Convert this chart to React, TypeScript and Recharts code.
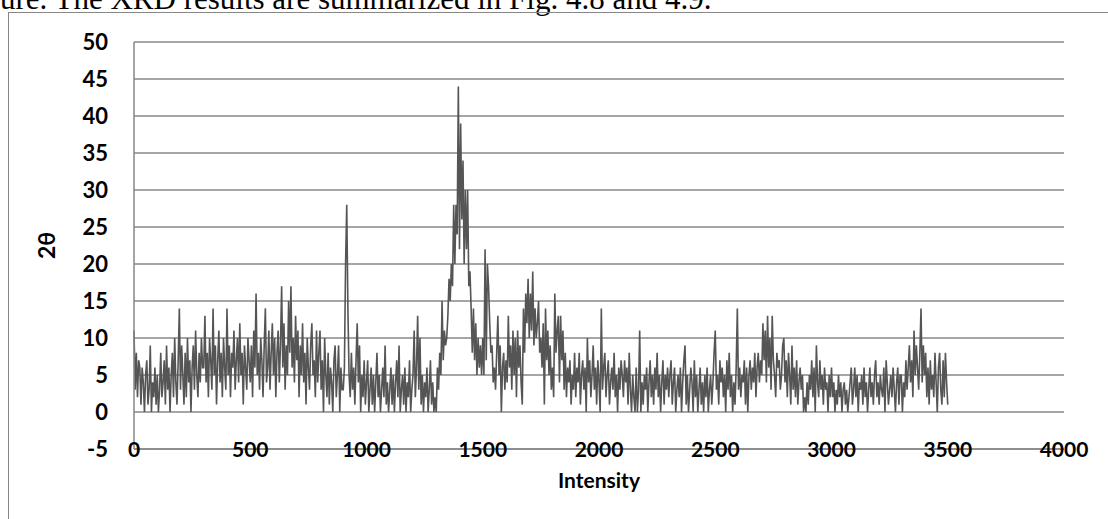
import { LineChart, Line, XAxis, YAxis, CartesianGrid } from 'recharts'

// 2θ readings, one every 5 units of intensity
const SAMPLE_STEP = 5

const lowRange = [
  11, 3, 8, 2, 7, 6, 1, 6, 4, 0, 5, 7, 1, 3, 9, 0, 4, 2, 6, 1,
  5, 0, 3, 8, 2, 4, 7, 1, 9, 3, 6, 0, 5, 8, 2, 10, 4, 1, 7, 14,
  3, 9, 5, 1, 8, 2, 10, 4, 7, 0, 6, 9, 3, 11, 5, 2, 8, 4, 10, 6,
  6, 13, 4, 8, 2, 10, 7, 3, 14, 5, 9, 1, 7, 11, 4, 8, 2, 10, 6, 3,
  14, 5, 9, 2, 8, 6, 11, 3, 7, 10, 4, 12, 5, 8, 1, 9, 6, 3, 10, 7,
  4, 9, 2, 11, 6, 16, 5, 8, 3, 10, 7, 2, 9, 14, 4, 6, 11, 3, 8, 12,
  5, 10, 2, 8, 11, 4, 9, 17, 6, 12, 3, 9, 5, 15, 8, 17, 6, 10, 4, 13,
  7, 11, 2, 9, 5, 12, 4, 8, 1, 10, 6, 3, 9, 12, 5, 7, 2, 11, 4, 8,
  11, 3, 7, 0, 10, 5, 2, 8, 1, 6, 4, 0, 7, 9, 2, 5, 9, 0, 6, 3,
  3, 6, 20, 28, 14, 5, 2, 8, 3, 6, 1, 7, 12, 4, 9, 0, 5, 2, 7, 1,
]

const quietRange = [
  4, 7, 0, 3, 6, 1, 5, 0, 4, 8, 2, 5, 0, 3, 6, 2, 9, 1, 4, 0,
  3, 6, 1, 5, 0, 4, 7, 2, 9, 0, 3, 5, 1, 6, 0, 4, 2, 7, 0, 3,
  5, 11, 2, 6, 13, 3, 10, 1, 5, 0, 4, 2, 6, 0, 3, 7, 1, 4, 0, 2,
]

const peakRange = [
  0, 6, 3, 8, 5, 15, 7, 11, 9, 10, 13, 18, 15, 20, 17, 28, 20, 28, 24, 44,
  22, 39, 26, 34, 20, 30, 22, 30, 17, 19, 14, 8, 14, 7, 12, 5, 10, 6, 9, 5,
  10, 5, 22, 7, 20, 17, 12, 8, 9, 4, 6, 3, 8, 13, 5, 9, 0, 6, 8, 3,
  7, 4, 13, 6, 9, 3, 11, 5, 10, 2, 11, 6, 9, 4, 1, 14, 8, 16, 12, 18,
  10, 16, 11, 19, 9, 14, 10, 12, 15, 8, 10, 6, 12, 1, 14, 7, 11, 5, 9, 3,
  6, 2, 16, 8, 11, 13, 4, 13, 7, 11, 3, 8, 2, 6, 4, 7, 1, 5, 3, 8,
]

const tailRange = [
  2, 6, 4, 8, 1, 5, 7, 3, 6, 0, 10, 4, 7, 2, 5, 9, 3, 6, 1, 7,
  4, 0, 14, 3, 6, 8, 2, 5, 7, 1, 4, 6, 3, 8, 2, 5, 0, 6, 3, 7,
  5, 2, 7, 4, 6, 1, 8, 3, 0, 5, 2, 0, 6, 0, 3, 11, 0, 4, 1, 5,
  3, 6, 0, 4, 7, 2, 5, 1, 6, 3, 8, 2, 5, 0, 4, 7, 1, 5, 3, 6,
  2, 5, 7, 1, 4, 6, 0, 3, 5, 2, 6, 0, 4, 7, 9, 1, 5, 0, 3, 6,
  4, 0, 7, 2, 5, 0, 3, 6, 1, 4, 0, 5, 2, 6, 0, 3, 5, 1, 4, 8,
  11, 3, 5, 1, 7, 4, 6, 2, 5, 0, 7, 3, 8, 2, 5, 0, 4, 1, 6, 14,
  3, 6, 2, 5, 4, 7, 1, 6, 0, 5, 7, 3, 6, 4, 8, 2, 6, 8, 4, 7,
  5, 12, 7, 11, 4, 13, 6, 10, 3, 13, 7, 5, 2, 8, 6, 7, 3, 5, 9, 10,
  4, 7, 2, 8, 5, 1, 9, 3, 6, 2, 7, 1, 4, 6, 3, 5, 0, 2, 0, 4,
  1, 5, 3, 7, 2, 6, 0, 9, 4, 2, 7, 3, 5, 1, 6, 3, 4, 0, 5, 2,
  6, 2, 4, 0, 3, 1, 5, 2, 4, 0, 3, 4, 1, 3, 0, 2, 4, 6, 1, 3,
  6, 2, 5, 0, 4, 3, 5, 1, 6, 2, 4, 0, 3, 6, 2, 4, 1, 5, 7, 2,
  4, 1, 5, 3, 2, 6, 0, 7, 4, 1, 3, 5, 2, 6, 3, 0, 4, 6, 1, 5,
  5, 0, 4, 2, 7, 3, 6, 9, 4, 7, 2, 11, 5, 9, 6, 3, 8, 14, 4, 9,
  5, 8, 2, 6, 1, 7, 3, 5, 2, 8, 4, 0, 6, 8, 3, 1, 7, 2, 8, 4, 1,
]

const xTicks = [0, 500, 1000, 1500, 2000, 2500, 3000, 3500, 4000]
const yTicks = [-5, 0, 5, 10, 15, 20, 25, 30, 35, 40, 45, 50]

const samples = [...lowRange, ...quietRange, ...peakRange, ...tailRange].map((v, i) => ({
  intensity: i * SAMPLE_STEP,
  theta: v,
}))

const axisGray = '#878787'
const labelFont = 'Lato, "Open Sans", sans-serif'

const XTick = ({ x, y, payload }: any) => (
  <text x={x} y={y} dy="0.36em" textAnchor="middle" fill="#000" fontSize={21} fontWeight={700} fontFamily={labelFont}>
    {payload.value}
  </text>
)

const YTick = ({ x, y, payload }: any) => (
  <text x={x} y={y} dy="0.36em" textAnchor="end" fill="#000" fontSize={22} fontWeight={700} fontFamily={labelFont}>
    {payload.value}
  </text>
)

export default function App() {
  return (
    <div style={{ position: 'absolute', left: 0, top: 0, width: 1108, height: 519, background: '#fff', overflow: 'hidden' }}>
      <div
        style={{
          position: 'absolute',
          left: 0,
          top: -17,
          fontFamily: '"Liberation Serif", serif',
          fontSize: 31,
          lineHeight: '31px',
          whiteSpace: 'nowrap',
          color: '#000',
        }}
      >
        ure. The XRD results are summarized in Fig. 4.8 and 4.9.
      </div>
      <div
        style={{
          position: 'absolute',
          left: 8,
          top: 12,
          width: 1108,
          height: 519,
          borderLeft: `1.5px solid ${axisGray}`,
          borderTop: `1.5px solid ${axisGray}`,
        }}
      />
      <div style={{ position: 'absolute', left: 0, top: 0 }}>
        <LineChart width={1108} height={519} data={samples} margin={{ top: 42, right: 44, bottom: 0, left: 0 }}>
          <CartesianGrid vertical={false} stroke={axisGray} strokeWidth={1.5} />
          <XAxis
            dataKey="intensity"
            type="number"
            domain={[0, 4000]}
            ticks={xTicks}
            height={70}
            tickLine={false}
            tickSize={0}
            tickMargin={0}
            axisLine={{ stroke: axisGray, strokeWidth: 1.5 }}
            tick={<XTick />}
            interval={0}
            label={{
              value: 'Intensity',
              position: 'center',
              dy: -3,
              style: { fontFamily: labelFont, fontSize: 21, fontWeight: 700, fill: '#000' },
            }}
          />
          <YAxis
            type="number"
            domain={[-5, 50]}
            ticks={yTicks}
            width={134}
            tickLine={false}
            tickSize={0}
            tickMargin={26}
            axisLine={{ stroke: axisGray, strokeWidth: 1.5 }}
            tick={<YTick />}
            interval={0}
            label={{
              value: '2θ',
              angle: -90,
              position: 'center',
              dx: -20,
              style: { fontFamily: labelFont, fontSize: 23, fontWeight: 700, fill: '#000' },
            }}
          />
          <Line
            type="linear"
            dataKey="theta"
            stroke="#555555"
            strokeWidth={1.6}
            dot={false}
            isAnimationActive={false}
          />
        </LineChart>
      </div>
    </div>
  )
}
